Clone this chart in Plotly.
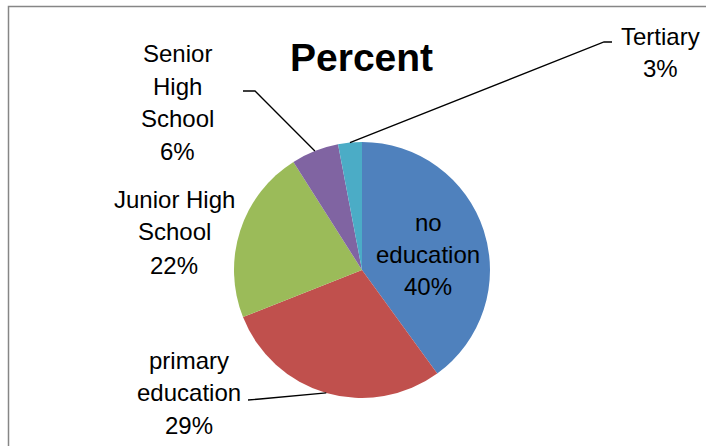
import math
import plotly.graph_objects as go

categories = ["no education", "primary education", "Junior High School", "Senior High School", "Tertiary"]
values = [40, 29, 22, 6, 3]
colors = ["#4F81BD", "#C0504D", "#9BBB59", "#8064A2", "#4BACC6"]
title_text = "Percent"

W, H = 706, 446
CX, CY, R = 362, 270, 128


def px(x):
    return x / W


def py(y):
    return 1 - y / H


def edge_point(i, r=R):
    total = sum(values)
    start = sum(values[:i])
    mid = (start + values[i] / 2) / total * 2 * math.pi
    return CX + r * math.sin(mid), CY - r * math.cos(mid)


pct = [f"{round(v / sum(values) * 100)}%" for v in values]

fig = go.Figure(go.Pie(
    labels=categories,
    values=values,
    sort=False,
    direction="clockwise",
    rotation=0,
    marker=dict(colors=colors, line=dict(width=0)),
    textinfo="none",
    hoverinfo="label+percent",
    domain=dict(x=[px(CX - R), px(CX + R)], y=[py(CY + R), py(CY - R)]),
    showlegend=False,
))

FONT = "Liberation Sans, Arial, sans-serif"
annotations = []


def add_lines(lines, cx, ys, size=24):
    for t, y in zip(lines, ys):
        annotations.append(dict(
            text=t, x=px(cx), y=py(y), xref="paper", yref="paper",
            showarrow=False, xanchor="center", yanchor="middle",
            font=dict(family=FONT, size=size, color="#000000"),
        ))


# labels
add_lines(["no", "education", pct[0]], 428, [222, 254, 286])
add_lines(["primary", "education", pct[1]], 189, [360, 392, 425])
add_lines(["Junior High", "School", pct[2]], 174, [199, 232, 265])
add_lines(["Senior", "High", "School", pct[3]], 177, [53, 86, 118, 151])
add_lines(["Tertiary", pct[4]], 660, [36, 68])

# title
annotations.append(dict(
    text=f"<b>{title_text}</b>", x=px(362), y=py(58), xref="paper", yref="paper",
    showarrow=False, xanchor="center", yanchor="middle",
    font=dict(family=FONT, size=39, color="#000000"),
))

shapes = []


def leader(points):
    path = "M " + " L ".join(f"{px(x)},{py(y)}" for x, y in points)
    shapes.append(dict(type="path", path=path, xref="paper", yref="paper",
                       line=dict(color="#000000", width=1.3)))


ex, ey = edge_point(4)
leader([(ex, ey), (604, 42), (612, 42)])
ex, ey = edge_point(3)
leader([(ex, ey), (255, 91), (243, 91)])
ex, ey = edge_point(1)
leader([(ex, ey), (260, 399), (248, 400)])

# chart area border
shapes.append(dict(type="rect", xref="paper", yref="paper",
                   x0=px(8.5), y0=py(6.5), x1=px(730), y1=py(470),
                   line=dict(color="#868686", width=1.5), fillcolor="rgba(0,0,0,0)"))

fig.update_layout(
    width=W, height=H,
    margin=dict(l=0, r=0, t=0, b=0),
    paper_bgcolor="#FFFFFF",
    plot_bgcolor="#FFFFFF",
    annotations=annotations,
    shapes=shapes,
)

fig.write_html("out.html", config={"displayModeBar": False},
               post_script="document.body.style.margin='0';")
